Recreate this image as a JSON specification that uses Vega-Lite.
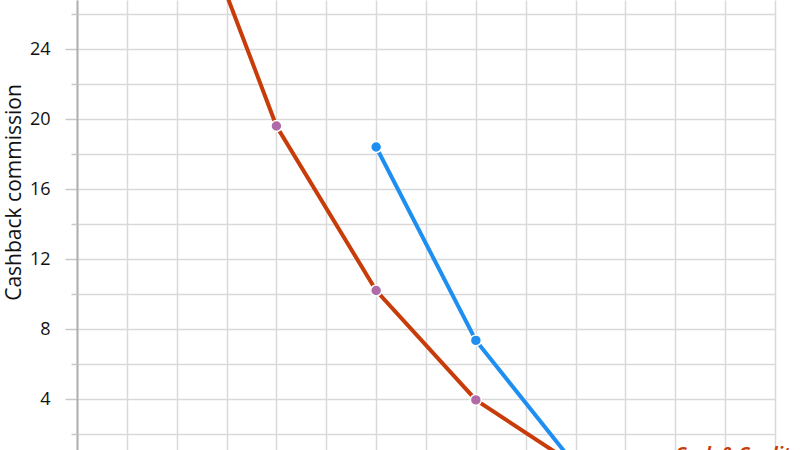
{
  "$schema": "https://vega.github.io/schema/vega-lite/v6.json",
  "autosize": "none",
  "width": 698,
  "height": 450,
  "padding": {"left": 77, "top": 0, "right": 25, "bottom": 0},
  "background": "white",
  "config": {
    "view": {"stroke": null},
    "font": "Open Sans"
  },
  "datasets": {
    "lines": [
      {"series": "Cash & Credit", "spend": 2, "commission": 34.6},
      {"series": "Cash & Credit", "spend": 4, "commission": 19.6},
      {"series": "Cash & Credit", "spend": 6, "commission": 10.2},
      {"series": "Cash & Credit", "spend": 8, "commission": 3.95},
      {"series": "Cash & Credit", "spend": 10, "commission": 0.2},
      {"series": "Cashback", "spend": 6, "commission": 18.4},
      {"series": "Cashback", "spend": 8, "commission": 7.35},
      {"series": "Cashback", "spend": 10, "commission": 0.2}
    ],
    "labels": [
      {"label": "Cash & Credit", "spend": 12, "commission": 1.33}
    ]
  },
  "resolve": {"axis": {"y": "independent"}},
  "layer": [
    {
      "data": {"name": "lines"},
      "mark": {"type": "line", "strokeWidth": 4, "clip": true},
      "encoding": {
        "x": {
          "field": "spend",
          "type": "quantitative",
          "scale": {"domain": [0, 14], "nice": false, "zero": false},
          "axis": {
            "values": [0, 1, 2, 3, 4, 5, 6, 7, 8, 9, 10, 11, 12, 13, 14],
            "grid": true,
            "gridColor": "#d9d9d9",
            "gridWidth": 1.5,
            "domain": false,
            "ticks": false,
            "labels": false,
            "title": null
          }
        },
        "y": {
          "field": "commission",
          "type": "quantitative",
          "scale": {"domain": [1.086, 26.8], "nice": false, "zero": false},
          "axis": {
            "orient": "left",
            "values": [4, 8, 12, 16, 20, 24],
            "grid": true,
            "gridColor": "#d9d9d9",
            "gridWidth": 1.5,
            "domainColor": "#b0b0b0",
            "domainWidth": 2,
            "tickColor": "#c8c8c8",
            "tickWidth": 1.5,
            "tickSize": 12,
            "labelPadding": 15,
            "labelFontSize": 18,
            "labelColor": "#111111",
            "title": "Cashback commission",
            "titleFontSize": 21,
            "titleFontWeight": "normal",
            "titleColor": "#111111",
            "titleBaseline": "middle",
            "titleAlign": "center",
            "titleX": -63,
            "titleY": 192
          }
        },
        "color": {
          "field": "series",
          "type": "nominal",
          "scale": {"domain": ["Cash & Credit", "Cashback"], "range": ["#c83c0a", "#1e8ff0"]},
          "legend": null
        }
      }
    },
    {
      "data": {"name": "lines"},
      "mark": {"type": "point", "filled": true, "size": 120, "opacity": 1, "stroke": "white", "strokeWidth": 1.5, "clip": true},
      "encoding": {
        "x": {"field": "spend", "type": "quantitative"},
        "y": {
          "field": "commission",
          "type": "quantitative",
          "axis": {
            "orient": "right",
            "offset": -698,
            "values": [2, 6, 10, 14, 18, 22, 26],
            "grid": true,
            "gridColor": "#d9d9d9",
            "gridWidth": 1.5,
            "domain": false,
            "tickColor": "#c8c8c8",
            "tickWidth": 1.5,
            "tickSize": -6,
            "labels": false,
            "title": null
          }
        },
        "fill": {
          "field": "series",
          "type": "nominal",
          "scale": {"domain": ["Cash & Credit", "Cashback"], "range": ["#b06aa8", "#1e8ff0"]},
          "legend": null
        }
      }
    },
    {
      "data": {"name": "labels"},
      "mark": {"type": "text", "align": "left", "baseline": "top", "fontSize": 18, "fontWeight": "bold", "fontStyle": "italic", "color": "#c83c0a", "font": "Open Sans"},
      "encoding": {
        "x": {"field": "spend", "type": "quantitative"},
        "y": {"field": "commission", "type": "quantitative", "axis": null},
        "text": {"field": "label"}
      }
    }
  ]
}
